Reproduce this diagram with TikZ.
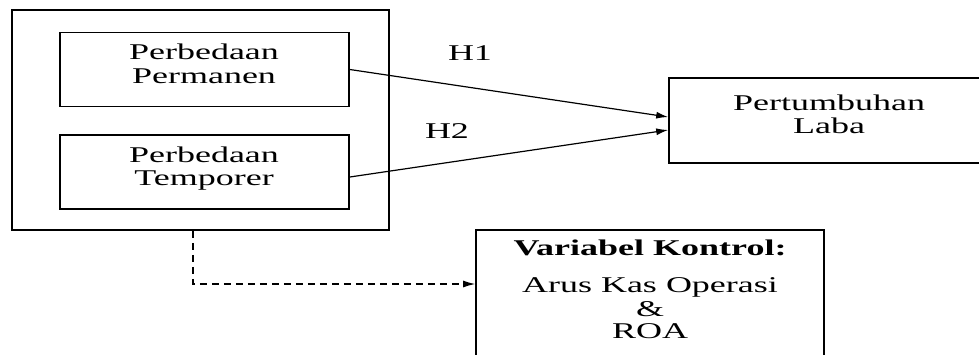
\documentclass[tikz,border=0pt]{standalone}
\usepackage{fontspec}
\setmainfont{Liberation Serif}
\usetikzlibrary{arrows.meta}
\newcommand{\widetxt}[1]{\scalebox{1.6}[1]{#1}}
\begin{document}
\begin{tikzpicture}[x=1pt,y=-1pt,
  box/.style={draw,line width=1.6pt,inner sep=0,rectangle},
  txt/.style={anchor=base,inner sep=0,font=\fontsize{22.5}{24}\selectfont},
  conn/.style={line width=1.2pt,-{Latex[length=12pt,width=7pt]}},
  dashconn/.style={line width=1.2pt,dash pattern=on 7pt off 5pt,-{Latex[length=12pt,width=7pt]}}]
\clip (0,0) rectangle (979,354);
\fill[white] (0,0) rectangle (979,354);
% boxes
\node[box,minimum width=377pt,minimum height=220pt] (outer) at (200.5,120) {};
\node[box,minimum width=289pt,minimum height=74pt] (pp) at (204.5,69.5) {};
\node[box,minimum width=289pt,minimum height=74pt] (pt) at (204.5,172) {};
\node[box,minimum width=320pt,minimum height=85pt] (pl) at (829,120.5) {};
\node[box,minimum width=348pt,minimum height=132pt] (vk) at (650,296) {};
% texts
\node[txt] (t1a) at (204,59) {\widetxt{Perbedaan}};
\node[txt] (t1b) at (204,83) {\widetxt{Permanen}};
\node[txt] (t2a) at (204,162) {\widetxt{Perbedaan}};
\node[txt] (t2b) at (204,185) {\widetxt{Temporer}};
\node[txt] (t3a) at (829,110) {\widetxt{Pertumbuhan}};
\node[txt] (t3b) at (829,133) {\widetxt{Laba}};
\node[txt,font=\fontsize{22.5}{24}\selectfont\bfseries] (t4a) at (650,255) {\widetxt{Variabel Kontrol:}};
\node[txt] (t4b) at (650,292) {\widetxt{Arus Kas Operasi}};
\node[txt] (t4c) at (650,316) {\widetxt{\&}};
\node[txt] (t4d) at (650,338) {\widetxt{ROA}};
\node[txt] (h1) at (470,60) {\widetxt{H1}};
\node[txt] (h2) at (447,138) {\widetxt{H2}};
% connectors
\draw[conn] (pp.east) -- ([yshift=3.5pt]pl.west);
\draw[conn] ([yshift=-5pt]pt.east) -- ([yshift=-9.5pt]pl.west);
\draw[dashconn] ([xshift=-7.5pt]outer.south) |- ([yshift=12pt]vk.west);
\end{tikzpicture}
\end{document}
